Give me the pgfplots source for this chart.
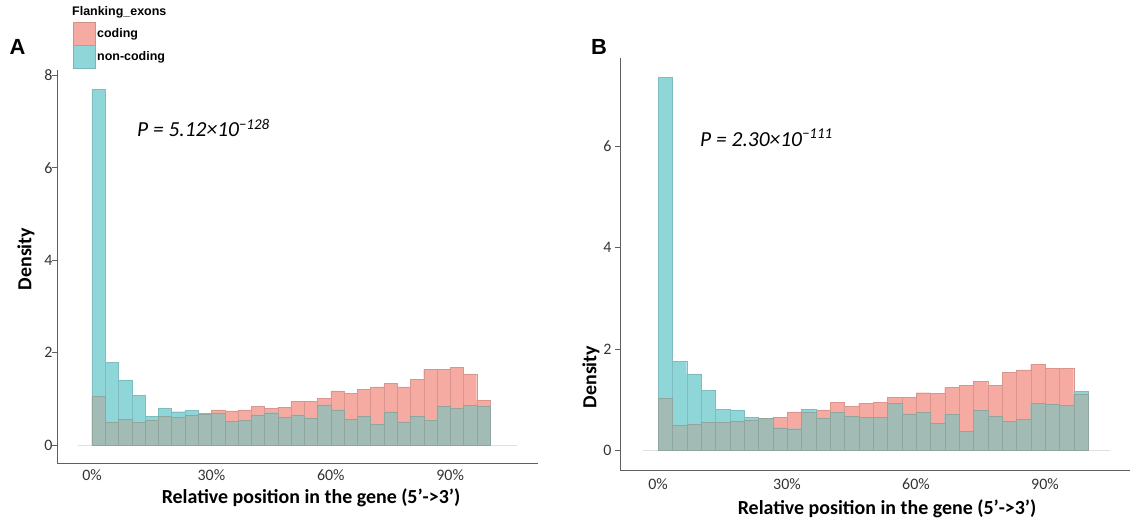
\documentclass[border=0pt]{standalone}
\usepackage{fontspec}
\setmainfont{Carlito}
\newfontfamily\arialf{Liberation Sans}
\usepackage{pgfplots}
\usepackage{pgfplotstable}
\pgfplotsset{compat=1.18}
\definecolor{pinkc}{RGB}{245,171,161}
\definecolor{tealc}{RGB}{143,214,217}
\definecolor{overc}{RGB}{162,187,180}
\definecolor{axgray}{RGB}{95,95,95}

% bin centre (0..30 = 0%..100%), coding, non-coding, overlap (grey part)
\pgfplotstableread{
x c nc ov
0.5 1.05 7.70 1.05
1.5 0.49 1.79 0.49
2.5 0.56 1.41 0.56
3.5 0.49 1.07 0.49
4.5 0.54 0.62 0.54
5.5 0.62 0.79 0.62
6.5 0.60 0.72 0.60
7.5 0.65 0.75 0.65
8.5 0.67 0.68 0.67
9.5 0.76 0.69 0.69
10.5 0.74 0.51 0.51
11.5 0.76 0.54 0.54
12.5 0.84 0.65 0.65
13.5 0.79 0.70 0.70
14.5 0.82 0.60 0.60
15.5 0.94 0.65 0.65
16.5 0.95 0.58 0.58
17.5 1.01 0.87 0.87
18.5 1.17 0.76 0.76
19.5 1.12 0.56 0.56
20.5 1.20 0.63 0.63
21.5 1.26 0.45 0.45
22.5 1.33 0.72 0.72
23.5 1.26 0.50 0.50
24.5 1.42 0.63 0.63
25.5 1.64 0.53 0.53
26.5 1.64 0.84 0.84
27.5 1.68 0.80 0.80
28.5 1.54 0.86 0.86
29.5 0.97 0.84 0.84
}\dataA

\pgfplotstableread{
x c nc ov
0.5 1.03 7.36 1.03
1.5 0.49 1.76 0.49
2.5 0.51 1.51 0.51
3.5 0.56 1.19 0.56
4.5 0.55 0.81 0.55
5.5 0.57 0.80 0.57
6.5 0.59 0.66 0.59
7.5 0.63 0.64 0.63
8.5 0.66 0.45 0.45
9.5 0.76 0.43 0.43
10.5 0.75 0.81 0.75
11.5 0.80 0.64 0.64
12.5 0.95 0.75 0.75
13.5 0.87 0.68 0.68
14.5 0.93 0.65 0.65
15.5 0.95 0.66 0.66
16.5 1.05 0.93 0.93
17.5 1.05 0.72 0.72
18.5 1.14 0.75 0.75
19.5 1.13 0.53 0.53
20.5 1.24 0.71 0.71
21.5 1.29 0.38 0.38
22.5 1.36 0.79 0.79
23.5 1.28 0.68 0.68
24.5 1.54 0.58 0.58
25.5 1.59 0.62 0.62
26.5 1.70 0.93 0.93
27.5 1.62 0.92 0.92
28.5 1.62 0.89 0.89
29.5 1.11 1.17 1.11
}\dataB

\pgfplotsset{
  panel/.style={
    scale only axis,
    axis x line*=bottom, axis y line*=left,
    axis line style={draw=axgray, line width=0.8bp, -},
    tick align=outside,
    major tick length=5bp,
    ytick style={draw=axgray, line width=0.8bp},
    xtick style={draw=none},
    xtick={0,9,18,27},
    xticklabels={0\%,30\%,60\%,90\%},
    /pgf/number format/assume math mode=true,
    tick label style={font=\fontsize{16}{16}\selectfont, text=black!80},
    label style={font=\bfseries\fontsize{20}{20}\selectfont},
    xlabel={Relative position in the gene (5’->3’)},
    ylabel={Density},
    clip=false,
  },
  barc/.style={ybar, bar width=1, bar shift=0pt, fill=pinkc, draw=pinkc!88!black, line width=0.3bp},
  barn/.style={ybar, bar width=1, bar shift=0pt, fill=tealc, draw=tealc!88!black, line width=0.3bp},
  baro/.style={ybar, bar width=1, bar shift=0pt, fill=overc, draw=overc!88!black, line width=0.3bp},
}

\begin{document}
\begin{tikzpicture}[x=1bp,y=1bp]
\useasboundingbox (0,0) rectangle (1138,522);

% ---------------- Panel A ----------------
\begin{axis}[panel,
  at={(57bp,59bp)}, anchor=south west,
  width=481bp, height=393bp,
  xmin=-2.638, xmax=33.62, ymin=-0.39, ymax=8.12,
  ytick={0,2,4,6,8},
  yticklabel style={xshift=4bp},
  xticklabel style={yshift=2bp},
  x label style={at={(axis description cs:0.528,-0.089)}, anchor=center},
  y label style={at={(axis description cs:-0.0644,0.519)}, anchor=center, rotate=0},
]
\addplot[gray!25, line width=0.8bp, forget plot] coordinates {(-1.055,0) (32.03,0)};
\addplot[barc] table[x=x, y=c] {\dataA};
\addplot[barn] table[x=x, y=nc] {\dataA};
\addplot[baro] table[x=x, y=ov] {\dataA};
\node[anchor=west, inner sep=0pt, font=\itshape\fontsize{21.5}{22}\selectfont] at (axis description cs:0.1663,0.8524)
  {P = 5.12×10\textsuperscript{−128}};
\end{axis}

% ---------------- Panel B ----------------
\begin{axis}[panel,
  at={(620bp,52bp)}, anchor=south west,
  width=510bp, height=412bp,
  xmin=-2.651, xmax=32.93, ymin=-0.385, ymax=7.74,
  ytick={0,2,4,6},
  x label style={at={(axis description cs:0.5235,-0.0945)}, anchor=center},
  y label style={at={(axis description cs:-0.0569,0.2257)}, anchor=center, rotate=0},
]
\addplot[gray!25, line width=0.8bp, forget plot] coordinates {(-1.047,0) (31.53,0)};
\addplot[barc] table[x=x, y=c] {\dataB};
\addplot[barn] table[x=x, y=nc] {\dataB};
\addplot[baro] table[x=x, y=ov] {\dataB};
\node[anchor=west, inner sep=0pt, font=\itshape\fontsize{21.5}{22}\selectfont] at (axis description cs:0.1569,0.8058)
  {P = 2.30×10\textsuperscript{−111}};
\end{axis}

% panel letters
\node[font=\arialf\bfseries\fontsize{22}{22}\selectfont] at (17.5,475) {A};
\node[font=\arialf\bfseries\fontsize{22}{22}\selectfont] at (599,475) {B};

% legend
\node[anchor=west, inner sep=0pt, font=\arialf\bfseries\fontsize{12.5}{13}\selectfont] at (72,510) {Flanking\_exons};
\filldraw[fill=pinkc, draw=pinkc!85!black, line width=0.5bp] (73,500) rectangle (95,477);
\filldraw[fill=tealc, draw=tealc!85!black, line width=0.5bp] (73,477) rectangle (95,454);
\node[anchor=west, inner sep=0pt, font=\arialf\bfseries\fontsize{12.5}{13}\selectfont] at (97,488) {coding};
\node[anchor=west, inner sep=0pt, font=\arialf\bfseries\fontsize{12.5}{13}\selectfont] at (97,465) {non-coding};
\end{tikzpicture}
\end{document}
